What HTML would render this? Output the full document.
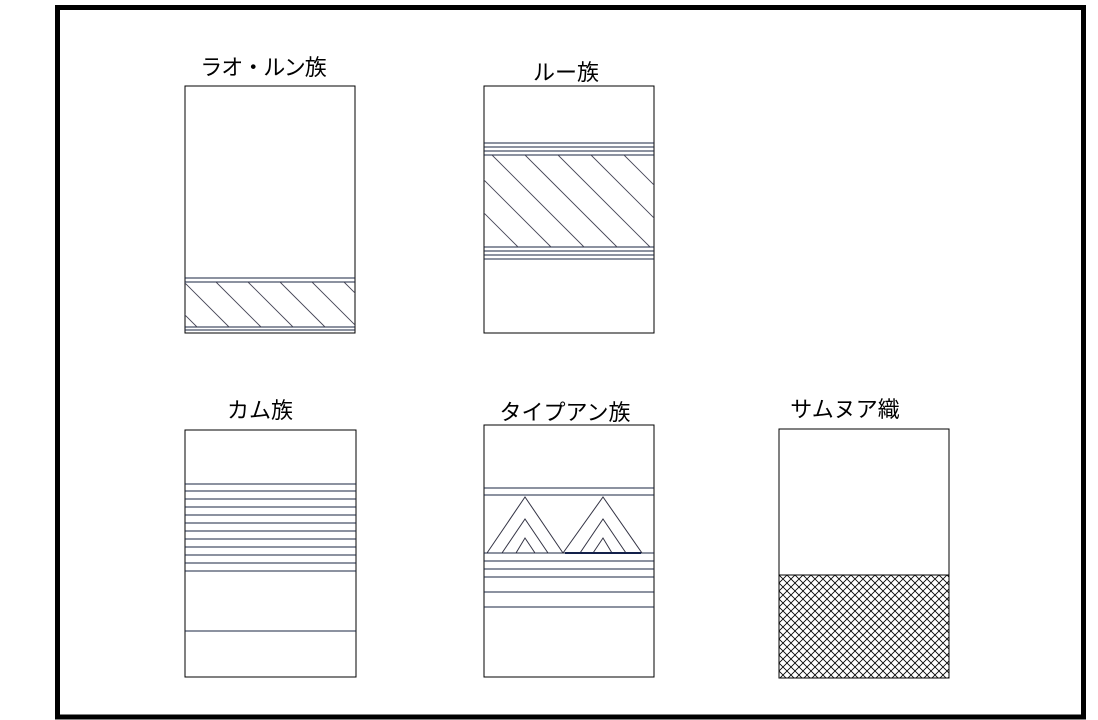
<!DOCTYPE html>
<html><head><meta charset="utf-8"><style>
html,body{margin:0;padding:0;background:#fff;}
svg{display:block}
text{font-family:"Liberation Sans","Noto Sans CJK JP",sans-serif;font-size:22px;fill:#000;text-anchor:middle}
</style></head><body>
<svg width="1098" height="720" viewBox="0 0 1098 720" xmlns="http://www.w3.org/2000/svg">
<defs>
<clipPath id="c1"><rect x="185" y="282" width="170" height="45"/></clipPath>
<clipPath id="c2"><rect x="484" y="155" width="170" height="92"/></clipPath>
<pattern id="xh" width="8" height="8" patternUnits="userSpaceOnUse" x="779" y="575">
<path d="M0,0 L8,8 M8,0 L0,8" stroke="#000" stroke-width="0.8"/>
</pattern>
</defs>
<rect x="57.5" y="7.5" width="1026" height="709.5" fill="none" stroke="#000" stroke-width="5"/>

<text x="263" y="75" letter-spacing="-1">ラオ・ルン族</text>
<text x="566" y="80">ルー族</text>
<text x="260" y="418">カム族</text>
<text x="565" y="420">タイプアン族</text>
<text x="845" y="417">サムヌア織</text>

<g stroke="#1a2540" stroke-width="1" fill="none">
<rect x="185" y="86" width="170" height="247" stroke="#000"/>
<line x1="185" y1="278" x2="355" y2="278"/><line x1="185" y1="282" x2="355" y2="282"/>
<line x1="185" y1="327" x2="355" y2="327"/><line x1="185" y1="330" x2="355" y2="330"/>
<g clip-path="url(#c1)" stroke="#445" stroke-width="0.9">
<line x1="120" y1="282" x2="165" y2="327"/><line x1="152" y1="282" x2="197" y2="327"/>
<line x1="184" y1="282" x2="229" y2="327"/><line x1="216" y1="282" x2="261" y2="327"/>
<line x1="248" y1="282" x2="293" y2="327"/><line x1="280" y1="282" x2="325" y2="327"/>
<line x1="312" y1="282" x2="357" y2="327"/><line x1="344" y1="282" x2="389" y2="327"/>
</g>
<rect x="484" y="86" width="170" height="247" stroke="#000"/>
<line x1="484" y1="143" x2="654" y2="143"/><line x1="484" y1="147" x2="654" y2="147"/>
<line x1="484" y1="151" x2="654" y2="151"/><line x1="484" y1="155" x2="654" y2="155"/>
<line x1="484" y1="247" x2="654" y2="247"/><line x1="484" y1="251" x2="654" y2="251"/>
<line x1="484" y1="255" x2="654" y2="255"/><line x1="484" y1="259" x2="654" y2="259"/>
<g clip-path="url(#c2)" stroke="#445" stroke-width="0.9">
<line x1="360" y1="155" x2="452" y2="247"/><line x1="393" y1="155" x2="485" y2="247"/>
<line x1="426" y1="155" x2="518" y2="247"/><line x1="459" y1="155" x2="551" y2="247"/>
<line x1="492" y1="155" x2="584" y2="247"/><line x1="525" y1="155" x2="617" y2="247"/>
<line x1="558" y1="155" x2="650" y2="247"/><line x1="591" y1="155" x2="683" y2="247"/>
<line x1="624" y1="155" x2="716" y2="247"/>
</g>
<rect x="185" y="430" width="171" height="247" stroke="#000"/>
<g>
<line x1="185" y1="484" x2="356" y2="484"/><line x1="185" y1="491" x2="356" y2="491"/>
<line x1="185" y1="499" x2="356" y2="499"/><line x1="185" y1="507" x2="356" y2="507"/>
<line x1="185" y1="515" x2="356" y2="515"/><line x1="185" y1="523" x2="356" y2="523"/>
<line x1="185" y1="531" x2="356" y2="531"/><line x1="185" y1="539" x2="356" y2="539"/>
<line x1="185" y1="547" x2="356" y2="547"/><line x1="185" y1="555" x2="356" y2="555"/>
<line x1="185" y1="563" x2="356" y2="563"/><line x1="185" y1="571" x2="356" y2="571"/>
<line x1="185" y1="631" x2="356" y2="631"/>
</g>
<rect x="484" y="425" width="170" height="252" stroke="#000"/>
<line x1="484" y1="488" x2="654" y2="488"/><line x1="484" y1="495" x2="654" y2="495"/>
<line x1="484" y1="553" x2="654" y2="553"/>
<line x1="484" y1="561" x2="654" y2="561"/><line x1="484" y1="569" x2="654" y2="569"/>
<line x1="484" y1="577" x2="654" y2="577"/><line x1="484" y1="592" x2="654" y2="592"/>
<line x1="484" y1="607" x2="654" y2="607"/>
<g stroke="#334">
<polyline points="487,553 525,497 563,553"/><polyline points="502,553 525,519 548,553"/><polyline points="516,553 525,538 535,553"/>
<polyline points="563,553 603,497 642,553"/><polyline points="580,553 603,519 626,553"/><polyline points="593,553 603,538 612,553"/>
</g>
<line x1="565" y1="553" x2="641" y2="553" stroke="#12204a" stroke-width="2"/>
<rect x="779" y="575" width="170" height="103" fill="url(#xh)" stroke="none"/>
<rect x="779" y="429" width="170" height="249" stroke="#000"/>
<line x1="779" y1="575" x2="949" y2="575" stroke="#000"/>
</g>
</svg>
</body></html>
